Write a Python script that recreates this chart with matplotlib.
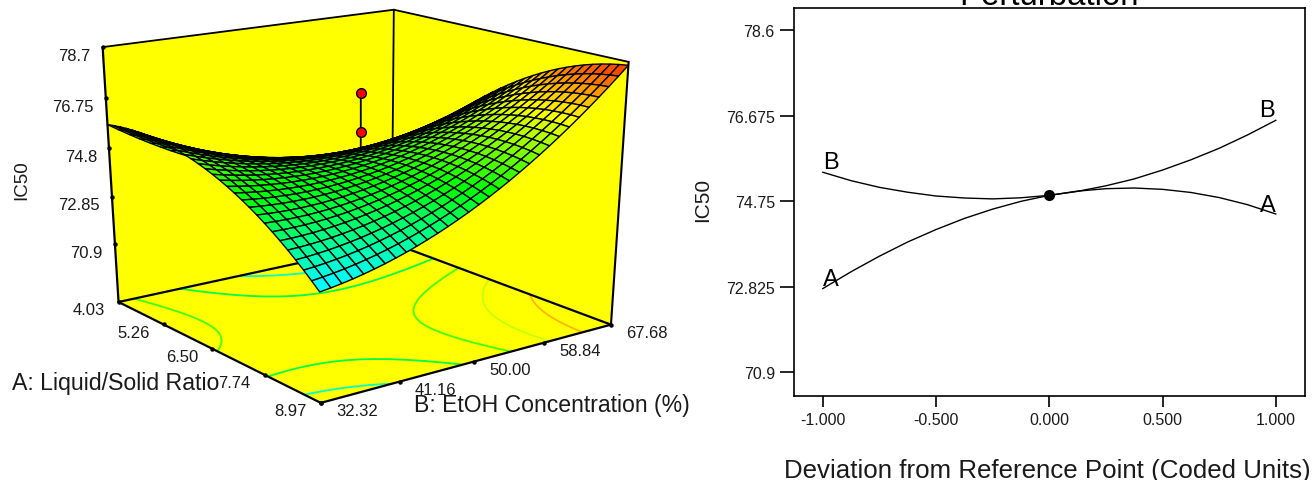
import numpy as np
import matplotlib
matplotlib.use('Agg')
import matplotlib.pyplot as plt
from matplotlib.colors import LinearSegmentedColormap, Normalize
from matplotlib.transforms import Bbox

plt.rcParams['font.family'] = ['Liberation Sans', 'DejaVu Sans']

# perturbation curves
dev = [-1, -0.875, -0.75, -0.625, -0.5, -0.375, -0.25, -0.125, 0,
       0.125, 0.25, 0.375, 0.5, 0.625, 0.75, 0.875, 1]
curve_a = [72.78, 73.16, 73.51, 73.83, 74.11, 74.36, 74.57, 74.745, 74.88,
           74.975, 75.03, 75.045, 75.015, 74.945, 74.83, 74.67, 74.46]
curve_b = [75.40, 75.21, 75.06, 74.95, 74.865, 74.82, 74.80, 74.825, 74.88,
           74.97, 75.095, 75.25, 75.45, 75.68, 75.94, 76.24, 76.57]
ref_value = 74.88
pert_yticks = [70.9, 72.825, 74.75, 76.675, 78.6]
pert_xticks = [-1.0, -0.5, 0.0, 0.5, 1.0]

# response surface read at coded A (rows) and coded B (columns)
coded = [-1, -0.75, -0.5, -0.25, 0, 0.25, 0.5, 0.75, 1]
surface_read = [
    [75.73, 74.78, 73.98, 73.31, 72.78, 72.39, 72.13, 72.02, 72.04],
    [75.85, 75.06, 74.40, 73.89, 73.51, 73.27, 73.17, 73.20, 73.38],
    [75.85, 75.20, 74.70, 74.33, 74.11, 74.03, 74.07, 74.26, 74.59],
    [75.70, 75.21, 74.85, 74.64, 74.57, 74.64, 74.84, 75.17, 75.65],
    [75.40, 75.06, 74.86, 74.80, 74.88, 75.10, 75.45, 75.94, 76.57],
    [74.94, 74.75, 74.71, 74.80, 75.03, 75.40, 75.90, 76.55, 77.33],
    [74.32, 74.29, 74.39, 74.64, 75.02, 75.53, 76.20, 76.99, 77.92],
    [73.53, 73.64, 73.90, 74.29, 74.83, 75.51, 76.31, 77.26, 78.34],
    [72.55, 72.82, 73.21, 73.77, 74.46, 75.29, 76.25, 77.34, 78.58],
]
contour_levels = [73.13, 74.23, 75.32, 76.41, 77.51]
design_points = [77.25, 75.75]  # centre runs, above the surface

a_ticks = [4.03, 5.26, 6.50, 7.74, 8.97]
a_labels = ['4.03', '5.26', '6.50', '7.74', '8.97']
b_ticks = [32.32, 41.16, 50.00, 58.84, 67.68]
b_labels = ['32.32', '41.16', '50.00', '58.84', '67.68']
z_ticks = [78.7, 76.75, 74.8, 72.85, 70.9]
z_labels = ['78.7', '76.75', '74.8', '72.85', '70.9']
z_floor, z_top = 68.46, 78.7
a_mid, a_half = 6.50, 2.47
b_mid, b_half = 50.0, 17.68

fig = plt.figure(figsize=(13.14, 4.81), dpi=100)
W, H = 1314.0, 481.0

# ---- camera for the 3D box, fitted on the corners of the box in the picture
box_world = np.array([[-1, -1, 0], [1, -1, 0], [1, 1, 0], [-1, 1, 0],
                      [-1, -1, 1], [1, 1, 1], [-1, 1, 1]], float)
box_px = np.array([[118.3, 302.7], [321, 404], [610.7, 325.7], [392, 244],
                   [102.7, 48.3], [628.7, 62.7], [393.7, 10.7]])
rows = []
for (x, y, z), (u, v) in zip(box_world, box_px):
    rows.append([x, y, z, 1, 0, 0, 0, 0, -u * x, -u * y, -u * z, -u])
    rows.append([0, 0, 0, 0, x, y, z, 1, -v * x, -v * y, -v * z, -v])
cam = np.linalg.svd(np.array(rows))[2][-1].reshape(3, 4)


def project(a, b, z):
    # a, b coded, z in IC50 units; returns picture position
    a, b, z = np.broadcast_arrays(a, b, z)
    zn = (z - z_floor) / (z_top - z_floor)
    pts = np.stack([a, b, zn, np.ones_like(a, dtype=float)], axis=-1) @ cam.T
    return pts[..., 0] / pts[..., 2], pts[..., 1] / pts[..., 2]


ax3 = fig.add_axes([0, 0, 1, 1])
ax3.set_xlim(0, W)
ax3.set_ylim(H, 0)
ax3.axis('off')

# walls and floor
corner = {}
for name, (a, b, z) in {'lf': (-1, -1, z_floor), 'ff': (1, -1, z_floor), 'rf': (1, 1, z_floor),
                        'bf': (-1, 1, z_floor), 'lt': (-1, -1, z_top), 'rt': (1, 1, z_top),
                        'bt': (-1, 1, z_top)}.items():
    corner[name] = project(a, b, z)
for names in (['lf', 'lt', 'bt', 'bf'], ['bf', 'bt', 'rt', 'rf'], ['lf', 'bf', 'rf', 'ff']):
    ax3.fill([corner[n][0] for n in names], [corner[n][1] for n in names], color='#ffff00', lw=0, zorder=1)

# refine the read table to the drawn mesh (table itself is what was read)
a_read, b_read = np.meshgrid(coded, coded, indexing='ij')
vand = np.polynomial.polynomial.polyvander2d(a_read.ravel(), b_read.ravel(), [3, 3])
coef = np.linalg.lstsq(vand, np.array(surface_read).ravel(), rcond=None)[0]
mesh = np.linspace(-1, 1, 31)
a_mesh, b_mesh = np.meshgrid(mesh, mesh[::-1], indexing='ij')
z_mesh = (np.polynomial.polynomial.polyvander2d(a_mesh.ravel(), b_mesh.ravel(), [3, 3]) @ coef).reshape(a_mesh.shape)

cmap = LinearSegmentedColormap.from_list('de', ['#0000ff', '#00ffff', '#00ff00', '#ffff00', '#ff0000'])
norm = Normalize(70.6, 79.0)

# floor contours
x_floor, y_floor = project(a_mesh, b_mesh, z_floor)
ax3.contour(x_floor, y_floor, z_mesh, levels=contour_levels, cmap=cmap, norm=norm, linewidths=1.3, zorder=2)

# box lines
for p, q, lw in [('lf', 'lt', 1.6), ('lt', 'bt', 1.3), ('bt', 'rt', 1.3), ('bt', 'bf', 1.3), ('rt', 'rf', 1.5),
                 ('lf', 'bf', 1.6), ('bf', 'rf', 1.6), ('lf', 'ff', 1.6), ('ff', 'rf', 1.6)]:
    ax3.plot([corner[p][0], corner[q][0]], [corner[p][1], corner[q][1]], color='k', lw=lw,
             solid_capstyle='round', zorder=3)

# centre runs with their stem
sx, sy = project(0.0, 0.0, np.array(design_points + [ref_value]))
ax3.plot(sx, sy, color='k', lw=1.3, zorder=4)
ax3.plot(sx[:2], sy[:2], 'o', ms=7, mfc='#ff0000', mec='k', mew=1.0, zorder=4)

# surface, rows run back to front
x_surf, y_surf = project(a_mesh, b_mesh, z_mesh)
z_cell = (z_mesh[:-1, :-1] + z_mesh[1:, :-1] + z_mesh[:-1, 1:] + z_mesh[1:, 1:]) / 4
quad = ax3.pcolormesh(x_surf, y_surf, z_cell, shading='flat', cmap=cmap, norm=norm, edgecolors='k',
                      linewidth=1.0, antialiased=True, zorder=5)
quad.set_snap(False)

# axis ticks and labels
kw = dict(textcoords='offset pixels', fontsize=12, va='center', color='#1a1a1a', annotation_clip=False)
for val, lab in zip(z_ticks, z_labels):
    x, y = project(-1, -1, val)
    ax3.plot(x, y, 'o', ms=2.2, color='k', zorder=6)
    ax3.annotate(lab, (x, y), xytext=(-12, -8), ha='right', **kw)
for val, lab in zip(a_ticks, a_labels):
    x, y = project((val - a_mid) / a_half, -1, z_floor)
    ax3.plot(x, y, 'o', ms=2.2, color='k', zorder=6)
    ax3.annotate(lab, (x, y), xytext=(-30, -8), ha='center', **kw)
for val, lab in zip(b_ticks, b_labels):
    x, y = project(1, (val - b_mid) / b_half, z_floor)
    ax3.plot(x, y, 'o', ms=2.2, color='k', zorder=6)
    ax3.annotate(lab, (x, y), xytext=(36, -8), ha='center', **kw)
ax3.text(116, 390, 'A: Liquid/Solid Ratio', fontsize=16.7, ha='center', va='baseline', color='#1a1a1a')
ax3.text(551.5, 412, 'B: EtOH Concentration (%)', fontsize=16.6, ha='center', va='baseline', color='#1a1a1a')
ax3.text(22, 180, 'IC50', fontsize=13.5, rotation=90, ha='center', va='center', color='#1a1a1a')

# ---- perturbation panel
left, right, top, bottom = 793.6, 1305.0, 9.0, 397.0
ax = fig.add_axes([left / W, 1 - bottom / H, (right - left) / W, (bottom - top) / H])
ax.plot(dev, curve_a, color='k', lw=1.0)
ax.plot(dev, curve_b, color='k', lw=1.0)
ax.plot([0], [ref_value], 'o', color='k', ms=7)
ax.set_xlim(-1.129, 1.129)
ax.set_ylim(70.36, 79.10)
ax.set_xticks(pert_xticks, ['%.3f' % v for v in pert_xticks])
ax.set_yticks(pert_yticks, [str(v) for v in pert_yticks])
ax.tick_params(axis='y', length=10, width=1.2, pad=3.5, labelsize=11.5, labelcolor='#1a1a1a')
ax.tick_params(axis='x', length=8, width=1.2, pad=3.5, labelsize=11.5, labelcolor='#1a1a1a')
for s in ax.spines.values():
    s.set_linewidth(1.2)

ax.text(-1.0, 75.49, 'B', fontsize=17, ha='left', va='baseline')
ax.text(-1.0, 72.86, 'A', fontsize=17, ha='left', va='baseline')
ax.text(1.0, 74.525, 'A', fontsize=17, ha='right', va='baseline')
ax.text(0.995, 76.66, 'B', fontsize=17, ha='right', va='baseline')
ax.text(0, 79.2, 'Perturbation', fontsize=23.8, ha='center', va='baseline', clip_on=False)

fig.text(1047.5 / W, 1 - 478 / H, 'Deviation from Reference Point (Coded Units)', fontsize=18.6,
         ha='center', va='baseline', color='#1a1a1a')
# the label of this panel is cut off on its right side in the source
t = fig.text(702.5 / W, 1 - 200 / H, 'IC50', fontsize=15, rotation=90, ha='center', va='center', color='#1a1a1a')
t.set_clip_box(Bbox([[680, 0], [709, H]]))
t.set_clip_on(True)

fig.savefig('out.png', dpi=100)
